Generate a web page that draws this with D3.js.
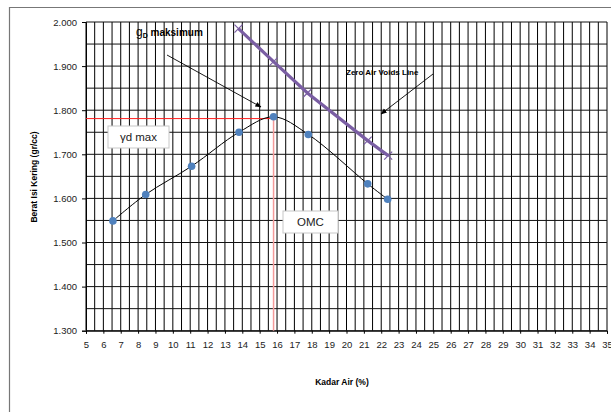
<!DOCTYPE html>
<html>
<head>
<meta charset="utf-8">
<script src="https://cdn.jsdelivr.net/npm/d3@7"></script>
<style>
  body { margin: 0; background: #fff; }
  svg { display: block; font-family: "Liberation Sans", Arial, sans-serif; }
</style>
</head>
<body>
<svg width="611" height="412"></svg>
<script>
// compaction test readings
const kadarAir = [6.55, 8.44, 11.08, 13.81, 15.8, 17.8, 21.22, 22.37]
const beratIsi = [1.549, 1.609, 1.673, 1.750, 1.785, 1.745, 1.633, 1.598]

// zero air voids line
const zavX = [13.78, 15.8, 17.75, 21.22, 22.4]
const zavY = [1.985, 1.910, 1.839, 1.731, 1.697]

const omc = 15.8
const ydMax = 1.781

const xTicks = d3.range(5, 36, 1)
const yTicks = [1.3, 1.4, 1.5, 1.6, 1.7, 1.8, 1.9, 2.0]

const svg = d3.select('svg')

const x = d3.scaleLinear().domain([5, 35]).range([86, 607])
const y = d3.scaleLinear().domain([1.3, 2.0]).range([330.7, 22])

// outer chart border (only top & left visible)
svg.append('path')
  .attr('d', 'M9.5,412 V7.5 H611')
  .attr('fill', 'none')
  .attr('stroke', '#777')
  .attr('stroke-width', 1.2)

const defs = svg.append('defs')
defs.append('marker')
  .attr('id', 'arrow')
  .attr('viewBox', '0 0 10 10')
  .attr('refX', 9).attr('refY', 5)
  .attr('markerWidth', 7).attr('markerHeight', 7)
  .attr('orient', 'auto')
  .append('path')
  .attr('d', 'M0,1 L10,5 L0,9 z')
  .attr('fill', '#000')

// grid
const grid = svg.append('g')
grid.selectAll('.vg').data(d3.range(5, 35.01, 0.5))
  .enter().append('line')
  .attr('x1', d => x(d)).attr('x2', d => x(d))
  .attr('y1', y(2.0)).attr('y2', y(1.3))
  .attr('stroke', '#000').attr('stroke-width', 1)

grid.selectAll('.hg').data(d3.range(0, 15).map(i => 1.3 + i * 0.05))
  .enter().append('line')
  .attr('x1', x(5)).attr('x2', x(35))
  .attr('y1', d => y(d)).attr('y2', d => y(d))
  .attr('stroke', '#111').attr('stroke-width', 1)

// axes
const xAxis = svg.append('g')
  .attr('transform', `translate(0,${y(1.3)})`)
  .call(d3.axisBottom(x).tickValues(xTicks).tickSize(3).tickPadding(8).tickFormat(d3.format('d')))
xAxis.select('.domain').attr('stroke', '#000')
xAxis.selectAll('text').attr('font-size', 9.5).attr('fill', '#222')

const yAxis = svg.append('g')
  .attr('transform', `translate(${x(5)},0)`)
  .call(d3.axisLeft(y).tickValues(yTicks).tickSize(4).tickPadding(5).tickFormat(d3.format('.3f')))
yAxis.select('.domain').attr('stroke', '#000')
yAxis.selectAll('text').attr('font-size', 9.5).attr('fill', '#222')

// axis titles
svg.append('text')
  .attr('x', 342).attr('y', 385)
  .attr('text-anchor', 'middle')
  .attr('font-size', 8.5).attr('font-weight', 'bold')
  .text('Kadar Air (%)')

svg.append('text')
  .attr('transform', 'translate(37,177) rotate(-90)')
  .attr('text-anchor', 'middle')
  .attr('font-size', 8.5).attr('font-weight', 'bold')
  .text('Berat Isi Kering (gr/cc)')

// red guide lines for OMC / yd max
svg.append('line')
  .attr('x1', x(5)).attr('x2', x(omc))
  .attr('y1', y(ydMax)).attr('y2', y(ydMax))
  .attr('stroke', '#ff2020').attr('stroke-width', 1)
svg.append('line')
  .attr('x1', x(omc)).attr('x2', x(omc))
  .attr('y1', y(ydMax)).attr('y2', y(1.3))
  .attr('stroke', '#f59a9a').attr('stroke-width', 1.5)

// zero air voids line
const zav = zavX.map((d, i) => [d, zavY[i]])
svg.append('path')
  .datum(zav)
  .attr('d', d3.line().x(d => x(d[0])).y(d => y(d[1])))
  .attr('fill', 'none')
  .attr('stroke', '#7a5ea3')
  .attr('stroke-width', 3.2)
svg.selectAll('.zx').data(zav)
  .enter().append('path')
  .attr('transform', d => `translate(${x(d[0])},${y(d[1])})`)
  .attr('d', 'M-4,-4 L4,4 M-4,4 L4,-4')
  .attr('stroke', '#7a5ea3')
  .attr('stroke-width', 1.2)

// compaction curve
const pts = kadarAir.map((d, i) => [d, beratIsi[i]])
svg.append('path')
  .datum(pts)
  .attr('d', d3.line().x(d => x(d[0])).y(d => y(d[1])).curve(d3.curveCatmullRom.alpha(0.5)))
  .attr('fill', 'none')
  .attr('stroke', '#000')
  .attr('stroke-width', 1)
svg.selectAll('.pt').data(pts)
  .enter().append('circle')
  .attr('cx', d => x(d[0])).attr('cy', d => y(d[1]))
  .attr('r', 3.8)
  .attr('fill', '#4f81bd')

// annotations
const t1 = svg.append('text')
  .attr('x', 136).attr('y', 36)
  .attr('font-size', 10).attr('font-weight', 'bold')
t1.append('tspan').attr('font-size', 12).attr('font-weight', 'normal').text('g')
t1.append('tspan').attr('font-size', 7).attr('dy', 2).text('D')
t1.append('tspan').attr('dy', -2).text(' maksimum')

svg.append('line')
  .attr('x1', 167).attr('y1', 55).attr('x2', 261).attr('y2', 107)
  .attr('stroke', '#000').attr('stroke-width', 0.9)
  .attr('marker-end', 'url(#arrow)')

svg.append('text')
  .attr('x', 346).attr('y', 75)
  .attr('font-size', 8).attr('font-weight', 'bold')
  .text('Zero Air Voids Line')

svg.append('line')
  .attr('x1', 433).attr('y1', 74).attr('x2', 381).attr('y2', 114)
  .attr('stroke', '#000').attr('stroke-width', 0.9)
  .attr('marker-end', 'url(#arrow)')

// label boxes
function labelBox(x0, y0, w, h, txt) {
  svg.append('rect')
    .attr('x', x0).attr('y', y0).attr('width', w).attr('height', h)
    .attr('fill', '#fff').attr('stroke', '#c8c8c8').attr('stroke-width', 1)
  svg.append('text')
    .attr('x', x0 + w / 2).attr('y', y0 + h / 2 + 4)
    .attr('text-anchor', 'middle')
    .attr('font-size', 11.5).attr('fill', '#222')
    .text(txt)
}
labelBox(108, 126, 61, 22, 'γd max')
labelBox(283, 211, 55, 22, 'OMC')
</script>
</body>
</html>
